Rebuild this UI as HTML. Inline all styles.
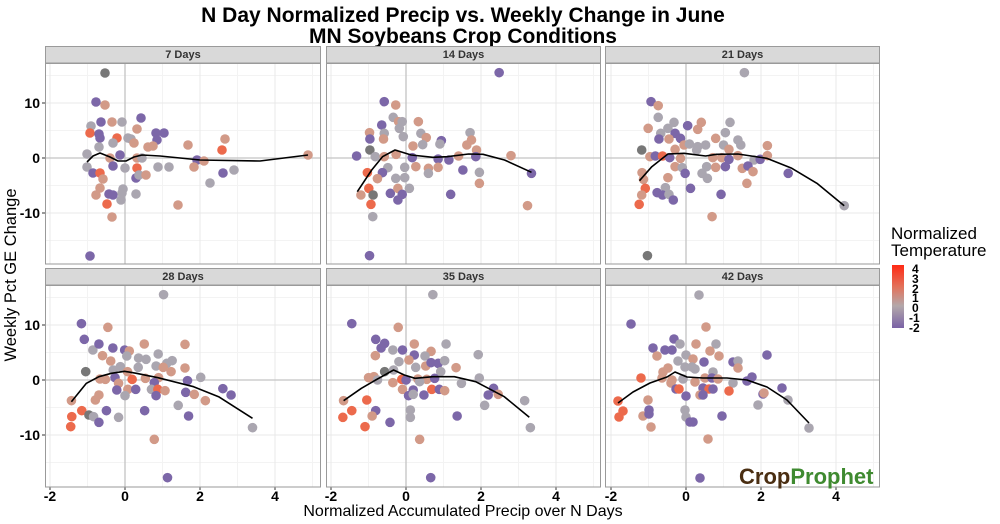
<!DOCTYPE html>
<html><head><meta charset="utf-8"><style>
html,body{margin:0;padding:0;background:#fff;}
svg{display:block;font-family:"Liberation Sans",sans-serif;}
</style></head><body>
<svg id="s" width="1000" height="524" xmlns="http://www.w3.org/2000/svg">
<defs><linearGradient id="lg" x1="0" y1="0" x2="0" y2="1">
<stop offset="0" stop-color="#ff2a14"/><stop offset="0.35" stop-color="#e2735c"/><stop offset="0.65" stop-color="#b3a8aa"/><stop offset="1" stop-color="#7a62a6"/></linearGradient></defs>
<text x="463" y="22" text-anchor="middle" font-size="21" font-weight="bold">N Day Normalized Precip vs. Weekly Change in June</text>
<text x="463" y="43" text-anchor="middle" font-size="21" font-weight="bold">MN Soybeans Crop Conditions</text>
<text transform="translate(16,275) rotate(-90)" text-anchor="middle" font-size="16.5">Weekly Pct GE Change</text>
<text x="463" y="516" text-anchor="middle" font-size="16">Normalized Accumulated Precip over N Days</text>
<g id="g"></g>
<text x="891" y="239" font-size="17">Normalized</text>
<text x="891" y="256" font-size="17">Temperature</text>
<rect x="892" y="265" width="12" height="63" fill="url(#lg)"/>
<g font-size="12" font-weight="bold">
<text x="912" y="273">4</text><text x="912" y="283">3</text><text x="912" y="293">2</text><text x="912" y="302">1</text><text x="912" y="312">0</text><text x="909" y="322">-1</text><text x="909" y="332">-2</text></g>
<text x="739" y="484" font-size="22" font-weight="bold"><tspan fill="#4a2e12">Crop</tspan><tspan fill="#3f8a30">Prophet</tspan></text>
</svg>
<script>
var NS="http://www.w3.org/2000/svg",G=document.getElementById('g');
function el(t,a,p){var e=document.createElementNS(NS,t);for(var k in a)e.setAttribute(k,a[k]);(p||G).appendChild(e);return e;}
var C={P:"#7c67a8",G:"#aaa6b0",S:"#d29a88",R:"#ec6a4c",D:"#777777"};
var cols=[[45,321,125],[326,601,406],[605,880,686]];
var rows=[[46,63,264,158],[268,285,487,380]];
var names=["7 Days","14 Days","21 Days","28 Days","35 Days","42 Days"];
var U=37.5,V=5.5;
for(var r=0;r<2;r++)for(var c=0;c<3;c++){
 var L=cols[c][0],R=cols[c][1],x0=cols[c][2],T=rows[r][1],B=rows[r][2],y0=rows[r][3];
 el('rect',{x:L,y:T,width:R-L,height:B-T,fill:"#fff"});
 [-1,1,3,5].forEach(function(v){var x=x0+v*U;if(x<R)el('line',{x1:x,x2:x,y1:T,y2:B,stroke:"#f3f3f3","stroke-width":1});});
 [-15,-5,5,15].forEach(function(v){var y=y0-v*V;el('line',{x1:L,x2:R,y1:y,y2:y,stroke:"#f3f3f3","stroke-width":1});});
 [-2,2,4].forEach(function(v){var x=x0+v*U;el('line',{x1:x,x2:x,y1:T,y2:B,stroke:"#e8e8e8","stroke-width":1});});
 [-10,10].forEach(function(v){var y=y0-v*V;el('line',{x1:L,x2:R,y1:y,y2:y,stroke:"#e8e8e8","stroke-width":1});});
 el('line',{x1:x0,x2:x0,y1:T,y2:B,stroke:"#c4c4c4","stroke-width":1.3});
 el('line',{x1:L,x2:R,y1:y0,y2:y0,stroke:"#c4c4c4","stroke-width":1.3});
 el('rect',{x:L+.5,y:rows[r][0]+.5,width:R-L-1,height:T-rows[r][0],fill:"#d9d9d9",stroke:"#9a9a9a"});
 var t=el('text',{x:(L+R)/2,y:rows[r][0]+12,"text-anchor":"middle","font-size":11,"font-weight":"bold",fill:"#333"});t.textContent=names[r*3+c];
 if(c==0){[10,0,-10].forEach(function(v){var y=y0-v*V;var tt=el('text',{x:L-5,y:y+5,"text-anchor":"end","font-size":14,"font-weight":"bold"});tt.textContent=v;el('line',{x1:L-3,x2:L,y1:y,y2:y,stroke:"#333"});});}
 if(r==1){[-2,0,2,4].forEach(function(v){var x=x0+v*U;var tt=el('text',{x:x,y:B+14,"text-anchor":"middle","font-size":14,"font-weight":"bold"});tt.textContent=v;el('line',{x1:x,x2:x,y1:B,y2:B+3,stroke:"#333"});});}
 window["box"+(r*3+c)]=[L,T,R,B];
}
function pts(list,ox,oy,sx,sy,curve){
 list.forEach(function(p){el('circle',{cx:ox+p[0]/sx,cy:oy+p[1]/sy,r:4.8,fill:C[p[2]]});});
 var d="";curve.forEach(function(p,i){var x=ox+p[0]/sx,y=oy+p[1]/sy;d+=(i?" L":"M")+x.toFixed(1)+" "+y.toFixed(1);});
 el('path',{d:d,fill:"none",stroke:"#000","stroke-width":1.6,"stroke-linejoin":"round"});
}
pts([[105,73,"D"],[96,102,"P"],[105,105,"S"],[101,122,"P"],[112,122,"S"],[122,122,"G"],[91,126,"G"],[141,118,"P"],[137,129,"S"],[90,133,"R"],[99,134,"P"],[156,133,"P"],[164,133,"P"],[117,138,"R"],[100,138,"P"],[157,140,"P"],[128,138,"G"],[131,139,"G"],[134,143,"S"],[113,143,"G"],[99,147,"G"],[188,145,"S"],[225,139,"S"],[222,150,"R"],[148,147,"S"],[153,146,"S"],[87,154,"G"],[120,155,"P"],[110,158,"S"],[137,158,"S"],[142,158,"G"],[197,160,"P"],[204,161,"S"],[87,167,"G"],[113,166,"P"],[125,168,"G"],[158,167,"G"],[169,167,"G"],[137,168,"R"],[194,167,"S"],[93,173,"P"],[100,173,"R"],[223,173,"P"],[234,170,"G"],[136,178,"P"],[139,175,"G"],[146,175,"S"],[103,179,"S"],[210,183,"G"],[100,188,"S"],[96,195,"S"],[109,194,"P"],[113,195,"P"],[122,193,"G"],[123,189,"G"],[136,194,"G"],[121,200,"G"],[107,204,"R"],[178,205,"S"],[112,217,"S"],[90,256,"P"],[308,155,"S"]],0,0,1,1,
[[87,162],[93,156],[100,153],[110,157],[118,161],[126,161],[134,157],[142,155],[160,156],[200,160],[260,161],[308,155]]);
var z2=[[485,38,"P"],[165,125,"P"],[197,135,"S"],[190,172,"G"],[158,195,"P"],[205,185,"S"],[215,185,"G"],[260,185,"S"],[124,218,"S"],[165,220,"G"],[207,205,"G"],[125,237,"P"],[163,237,"S"],[218,230,"G"],[267,220,"G"],[282,233,"S"],[324,242,"P"],[245,258,"S"],[272,254,"G"],[320,252,"G"],[404,218,"G"],[408,240,"S"],[395,255,"S"],[125,270,"D"],[88,288,"P"],[140,290,"G"],[165,290,"S"],[198,283,"S"],[243,293,"P"],[315,297,"P"],[345,300,"P"],[372,288,"S"],[422,270,"S"],[420,290,"P"],[518,287,"S"],[575,340,"P"],[175,323,"G"],[222,322,"G"],[253,320,"S"],[288,325,"S"],[315,322,"S"],[288,340,"G"],[384,330,"P"],[430,337,"G"],[118,338,"R"],[160,338,"P"],[146,356,"S"],[197,355,"G"],[222,353,"G"],[430,370,"S"],[122,385,"R"],[100,405,"S"],[134,405,"D"],[182,400,"P"],[203,385,"S"],[235,385,"G"],[215,403,"P"],[203,420,"P"],[350,403,"P"],[128,433,"R"],[133,470,"G"],[564,437,"S"],[124,587,"P"]];
pts(z2,325,60,2.785,3,[[90,395],[130,330],[160,290],[195,270],[240,285],[300,292],[340,290],[400,282],[440,283],[500,300],[575,337]]);
var z3=[[1168,38,"G"],[908,125,"P"],[928,137,"S"],[928,172,"G"],[972,187,"G"],[1048,187,"S"],[1128,187,"G"],[1010,197,"P"],[900,205,"S"],[955,205,"G"],[1038,208,"S"],[935,220,"G"],[975,220,"P"],[1115,218,"G"],[930,237,"P"],[958,237,"S"],[990,235,"P"],[1088,235,"S"],[1150,240,"G"],[1000,255,"S"],[1015,252,"G"],[1038,260,"G"],[1060,255,"G"],[1110,255,"G"],[1158,255,"G"],[1232,257,"S"],[882,270,"D"],[975,268,"S"],[1035,270,"G"],[1125,268,"S"],[905,290,"S"],[920,288,"P"],[940,288,"R"],[960,293,"P"],[990,295,"S"],[1080,293,"S"],[1105,293,"S"],[1125,298,"P"],[1150,287,"S"],[1195,300,"G"],[1212,298,"P"],[1232,287,"S"],[975,320,"S"],[995,323,"G"],[1063,320,"G"],[1088,322,"S"],[1115,320,"P"],[1162,325,"S"],[1178,318,"P"],[1192,335,"S"],[1003,340,"P"],[1050,340,"G"],[1065,355,"G"],[1290,340,"P"],[883,338,"S"],[887,358,"S"],[955,353,"S"],[1175,370,"S"],[892,385,"R"],[948,383,"G"],[1018,385,"P"],[882,405,"S"],[925,398,"P"],[940,405,"P"],[958,403,"G"],[970,420,"P"],[1103,403,"P"],[875,433,"R"],[1078,470,"S"],[1446,437,"G"],[898,587,"D"]];
pts(z3,325,60,2.785,3,[[876,362],[910,320],[955,282],[1000,280],[1060,288],[1090,283],[1150,282],[1230,295],[1300,325],[1370,370],[1446,437]]);
var z4=[[346,44,"G"],[116,131,"P"],[190,142,"S"],[124,178,"P"],[148,210,"G"],[165,192,"P"],[204,204,"P"],[237,210,"P"],[250,213,"S"],[292,192,"S"],[406,193,"S"],[175,227,"S"],[243,228,"G"],[276,234,"G"],[297,238,"G"],[331,222,"G"],[355,250,"G"],[370,242,"G"],[198,243,"S"],[225,260,"G"],[275,262,"G"],[325,258,"G"],[345,262,"S"],[128,275,"D"],[205,270,"G"],[245,275,"S"],[367,275,"S"],[406,264,"S"],[168,297,"S"],[183,298,"S"],[210,293,"P"],[258,298,"R"],[295,295,"S"],[332,293,"S"],[220,310,"S"],[320,308,"P"],[413,302,"P"],[450,292,"G"],[215,330,"P"],[246,328,"S"],[268,328,"P"],[312,328,"G"],[330,328,"R"],[350,332,"S"],[325,347,"P"],[238,347,"G"],[408,337,"P"],[432,343,"S"],[463,362,"S"],[512,326,"P"],[535,345,"P"],[165,345,"S"],[155,360,"S"],[88,362,"S"],[117,392,"R"],[186,392,"P"],[387,376,"G"],[293,392,"P"],[137,405,"D"],[150,410,"G"],[220,412,"G"],[416,408,"P"],[89,410,"R"],[165,427,"P"],[86,440,"R"],[595,443,"G"],[320,478,"S"],[357,593,"P"]];
pts(z4,40,280,2.8,3,[[88,365],[130,310],[165,290],[200,280],[237,274],[270,280],[330,293],[430,320],[500,350],[595,415]]);
var z5=[[1100,44,"G"],[873,131,"P"],[1003,142,"S"],[940,178,"P"],[965,190,"P"],[955,204,"P"],[988,210,"G"],[1015,210,"P"],[1048,192,"S"],[1137,192,"G"],[1095,214,"S"],[939,227,"S"],[1048,225,"P"],[1078,228,"G"],[1227,224,"G"],[1005,245,"G"],[1033,240,"S"],[1052,262,"G"],[1080,258,"S"],[1095,248,"P"],[1115,250,"P"],[1133,242,"G"],[1165,263,"S"],[965,275,"D"],[990,270,"G"],[1122,275,"G"],[920,293,"S"],[935,290,"S"],[945,300,"G"],[1013,298,"R"],[1025,300,"P"],[1058,297,"S"],[1083,298,"S"],[1105,295,"P"],[1230,294,"G"],[988,308,"S"],[1063,305,"G"],[1180,310,"G"],[1015,328,"S"],[1045,330,"P"],[1097,328,"R"],[1118,328,"P"],[1133,332,"S"],[1032,347,"P"],[1045,343,"G"],[1075,345,"P"],[1255,345,"P"],[1270,325,"P"],[1283,343,"S"],[1357,362,"G"],[915,360,"R"],[850,362,"S"],[1245,376,"G"],[940,392,"P"],[873,392,"R"],[1037,390,"G"],[930,408,"S"],[1037,412,"G"],[1168,408,"P"],[848,412,"R"],[980,427,"P"],[910,440,"R"],[1373,443,"G"],[1063,478,"S"],[1094,593,"P"]];
pts(z5,40,280,2.8,3,[[850,362],[900,325],[940,300],[990,270],[1020,285],[1050,295],[1100,290],[1160,290],[1220,305],[1300,350],[1370,412]]);
pts([[699,295,"G"],[631,324,"P"],[706,327,"S"],[674,339,"P"],[680,344,"G"],[696,344,"S"],[716,344,"G"],[653,348,"P"],[665,350,"P"],[672,350,"P"],[710,351,"S"],[767,355,"P"],[657,356,"S"],[686,355,"G"],[719,356,"S"],[678,361,"G"],[693,359,"S"],[704,362,"P"],[733,362,"P"],[738,361,"G"],[668,368,"S"],[685,367,"G"],[692,367,"G"],[695,369,"G"],[738,368,"S"],[713,372,"G"],[663,372,"S"],[641,378,"R"],[662,378,"S"],[672,380,"S"],[683,379,"G"],[705,378,"S"],[712,378,"P"],[718,379,"S"],[747,381,"P"],[752,377,"P"],[671,383,"S"],[695,382,"S"],[733,383,"G"],[676,389,"P"],[679,389,"R"],[703,388,"P"],[709,389,"R"],[713,389,"P"],[729,391,"R"],[700,395,"S"],[703,395,"P"],[686,396,"P"],[763,394,"P"],[764,393,"S"],[782,388,"P"],[788,400,"G"],[618,401,"R"],[648,400,"S"],[758,405,"G"],[649,410,"P"],[623,411,"R"],[685,410,"G"],[643,416,"S"],[649,414,"P"],[686,417,"G"],[722,416,"P"],[619,417,"R"],[690,422,"P"],[693,422,"P"],[651,427,"S"],[809,428,"G"],[708,439,"S"],[700,478,"P"]],0,0,1,1,
[[618,403],[633,392],[650,383],[667,377],[675,372],[687,377],[703,378],[727,378],[747,380],[767,387],[787,400],[809,423]]);
for(var i=0;i<6;i++){var b=window["box"+i];el('rect',{x:b[0]+.5,y:b[1],width:b[2]-b[0]-1,height:b[3]-b[1],fill:"none",stroke:"#9a9a9a"});}
var s=document.getElementById('s');var lg=s.querySelectorAll('text');s.appendChild(lg[lg.length-1]);
</script>
</body></html>
